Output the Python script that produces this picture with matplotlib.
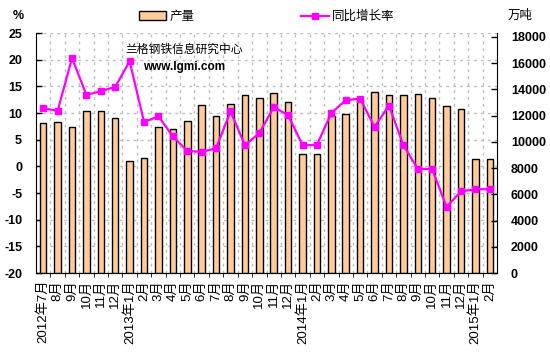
import numpy as np
import matplotlib.pyplot as plt
from matplotlib.patches import Patch
from matplotlib.lines import Line2D

plt.rcParams['font.family'] = ['Liberation Sans', 'Noto Sans CJK SC']

# data
months = ['2012年7月', '8月', '9月', '10月', '11月', '12月',
          '2013年1月', '2月', '3月', '4月', '5月', '6月', '7月', '8月', '9月', '10月', '11月', '12月',
          '2014年1月', '2月', '3月', '4月', '5月', '6月', '7月', '8月', '9月', '10月', '11月', '12月',
          '2015年1月', '2月']
output = [11410, 11490, 11110, 12330, 12330, 11800, 8520, 8750, 11110, 10960, 11570, 12790,
          11950, 12860, 13550, 13320, 13700, 13020, 9050, 9050, 11950, 12110, 13120, 13780,
          13550, 13550, 13630, 13320, 12710, 12490, 8680, 8680]
growth = [10.9, 10.4, 20.3, 13.4, 14.1, 14.9, 19.7, 8.3, 9.4, 5.6, 2.9, 2.7, 3.4, 10.3, 4.0, 6.2,
          11.1, 9.6, 4.0, 4.0, 10.0, 12.4, 12.7, 7.4, 11.4, 4.0, -0.5, -0.5, -7.6, -4.7, -4.3, -4.3]
pct_ticks = list(range(-20, 30, 5))
ton_ticks = list(range(0, 20000, 2000))

x = np.arange(len(months))
fig = plt.figure(figsize=(5.5, 3.53), dpi=100)
ax = fig.add_axes([0.0655, 0.2266, 0.8381, 0.6799])

# base axes: % scale + grid
ax.set_xlim(-0.5, len(months) - 0.5)
ax.set_ylim(-20, 25)
ax.set_yticks(pct_ticks)
ax.set_yticklabels([str(t) for t in pct_ticks], fontsize=9, fontweight='bold')
ax.tick_params(axis='y', direction='in', length=4, width=1, pad=10)
ax.set_xticks(x)
ax.set_xticklabels(months, rotation=90, fontsize=9.5)
ax.set_xticks(np.arange(0.5, len(months) - 0.5, 1), minor=True)
ax.tick_params(axis='x', which='major', length=0, pad=5)
ax.tick_params(axis='x', which='minor', length=3, direction='out')
ax.grid(True, which='minor', axis='x', color='#BDBDBD', linestyle=(0, (2, 3)), linewidth=1)
ax.grid(True, which='major', axis='y', color='#BDBDBD', linestyle=(0, (2, 3)), linewidth=1)
ax.spines['top'].set_visible(False)
ax.spines['right'].set_visible(False)

# bars on the right (万吨) scale
axb = ax.twinx()
axb.bar(x, output, width=0.45, color='#FFCC99', edgecolor='black', linewidth=1)
axb.set_ylim(0, 18300)
axb.set_yticks(ton_ticks)
axb.set_yticklabels([str(t) for t in ton_ticks], fontsize=9, fontweight='bold')
axb.tick_params(axis='y', direction='in', length=4, width=1, pad=10)
axb.spines['top'].set_visible(False)
axb.spines['left'].set_visible(False)

# line on top, sharing the % scale
axl = ax.twinx()
axl.set_ylim(-20, 25)
axl.plot(x, growth, color='#FF00FF', linewidth=1.6, marker='s', markersize=5)
axl.set_yticks([])
for s in axl.spines.values():
    s.set_visible(False)

fig.text(0.033, 0.955, '%', fontsize=9, fontweight='bold', ha='center', va='center')
fig.text(0.945, 0.955, '万吨', fontsize=9, ha='center', va='center')
fig.text(0.335, 0.858, '兰格钢铁信息研究中心', fontsize=8.5, ha='center', va='center')
fig.text(0.335, 0.81, 'www.lgmi.com', fontsize=8.5, fontweight='heavy', ha='center', va='center')

handles = [Patch(facecolor='#FFCC99', edgecolor='black', linewidth=1),
           Line2D([], [], color='#FF00FF', linewidth=1.6, marker='s', markersize=5)]
fig.legend(handles, ['产量', '同比增长率'], loc='center', bbox_to_anchor=(0.485, 0.952),
           ncol=2, frameon=False, fontsize=9, handlelength=2.2, columnspacing=8.5,
           handletextpad=0.3)

fig.savefig('out.png', dpi=100)
